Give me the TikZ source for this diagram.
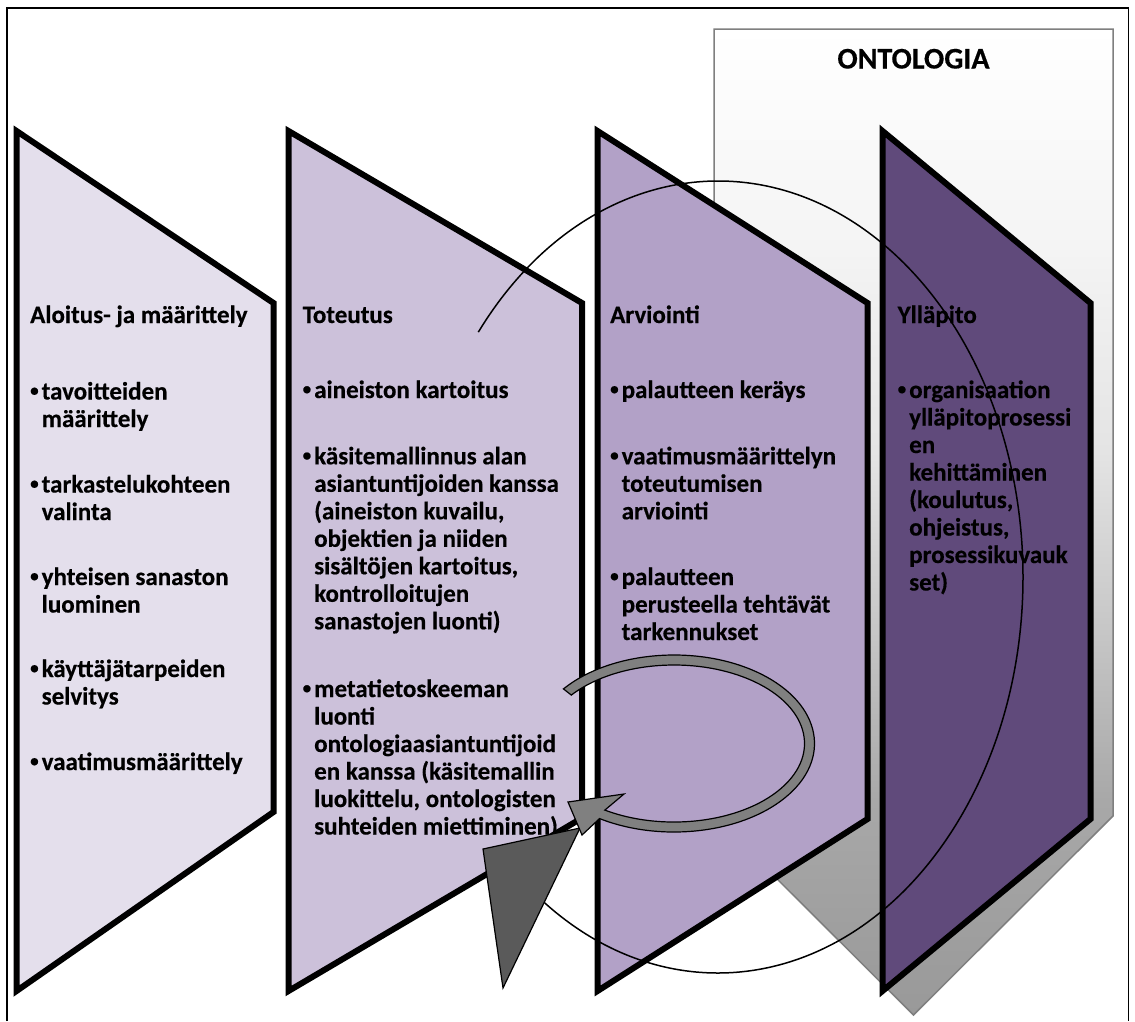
\documentclass[tikz,border=0pt]{standalone}
\usepackage{fontspec}
\setmainfont{Carlito}[BoldFeatures={FakeBold=0.4}]

% phase panel fills
\definecolor{phaseA}{HTML}{E4DFEC}
\definecolor{phaseB}{HTML}{CCC1DA}
\definecolor{phaseC}{HTML}{B2A1C7}
\definecolor{phaseD}{HTML}{604A7B}
% ontology panel fade
\definecolor{ontoC0}{HTML}{999999}
\definecolor{ontoC1}{HTML}{A8A8A8}
\definecolor{ontoC2}{HTML}{C8C8C8}
\definecolor{ontoC3}{HTML}{E4E4E4}
\definecolor{ontoC4}{HTML}{F4F4F4}
\definecolor{ontoEdge}{HTML}{7F7F7F}
\definecolor{ringGray}{HTML}{808080}
\definecolor{headGray}{HTML}{5A5A5A}

\pgfdeclareverticalshading{ontofade}{100bp}{%
  color(0bp)=(ontoC0); color(25bp)=(ontoC0); color(35.9bp)=(ontoC1);
  color(45bp)=(ontoC2); color(53.6bp)=(ontoC3); color(63.8bp)=(ontoC4);
  color(75bp)=(white); color(100bp)=(white)}

% small bullet in a fixed-width box, and the matching hanging indent
\newcommand\bulletmark{\makebox[11.5pt][l]{\raisebox{3.5pt}{\fontsize{17}{17}\selectfont •}}}
\newcommand\bulletgap{\hspace*{11.5pt}}

% one bulleted item, one node per printed line
\newcommand\bulletlines[4]{%
  \foreach \txtline [count=\k from 0] in {#4} {
    \node[txt] (#1-\k) at (#2,{#3+27.5*\k})
      {\ifnum\k=0 \bulletmark\else\bulletgap\fi\txtline};
  }%
}

\begin{document}
\begin{tikzpicture}[x=1pt,y=-1pt,
  txt/.style={anchor=base west,inner sep=0pt,
    font=\fontsize{25}{28}\selectfont\bfseries},
  heading/.style={txt},
  phase/.style={draw=black,line width=6pt,line join=miter},
  frame/.style={draw=black,line width=1.5pt},
  ontobox/.style={draw=ontoEdge,line width=1.5pt,shading=ontofade},
  loopline/.style={draw=black,line width=1.5pt},
  ring/.style={fill=ringGray,draw=black,line width=1.2pt,line join=miter},
  bighead/.style={fill=headGray,draw=black,line width=1.2pt,line join=miter}]

\useasboundingbox (0,0) rectangle (1135,1021);
\fill[white] (0,0) rectangle (1135,1021);

% outer frame
\draw[frame] (7,1021) -- (7,8) -- (1128.5,8) -- (1128.5,1021);

% ontology panel behind the phases
\shade[ontobox] (714,29) -- (1113,29) -- (1113,816) -- (913.5,1015)
  -- (714,816) -- cycle;
\node[font=\fontsize{30}{34}\selectfont\bfseries,anchor=base,inner sep=0pt]
  (onto) at (913.5,68.5) {ONTOLOGIA};

% the four phase panels
\draw[phase,fill=phaseA] (16.5,131) -- (273.5,303) -- (273.5,812) -- (16.5,991) -- cycle;
\draw[phase,fill=phaseB] (288.5,131) -- (582,303) -- (582,818) -- (288.5,991) -- cycle;
\draw[phase,fill=phaseC] (597.5,131) -- (867.5,303) -- (867.5,819) -- (597.5,991) -- cycle;
\draw[phase,fill=phaseD] (882.5,131) -- (1090.5,303) -- (1090.5,819) -- (882.5,991) -- cycle;

% phase 1
\node[heading] (h1) at (30,323) {Aloitus- ja määrittely};
\bulletlines{p1a}{30}{399.5}{tavoitteiden,määrittely}
\bulletlines{p1b}{30}{492.5}{tarkastelukohteen,valinta}
\bulletlines{p1c}{30}{585}{yhteisen sanaston,luominen}
\bulletlines{p1d}{30}{677}{käyttäjätarpeiden,selvitys}
\bulletlines{p1e}{30}{770}{vaatimusmäärittely}

% phase 2
\node[heading] (h2) at (302.5,323) {Toteutus};
\bulletlines{p2a}{302.5}{398}{aineiston kartoitus}
\bulletlines{p2b}{302.5}{464.3}{käsitemallinnus alan,asiantuntijoiden kanssa,
  {(aineiston kuvailu,},objektien ja niiden,{sisältöjen kartoitus,},
  kontrolloitujen,sanastojen luonti)}
\bulletlines{p2c}{302.5}{697}{metatietoskeeman,luonti,ontologiaasiantuntijoid,
  en kanssa (käsitemallin,{luokittelu, ontologisten},suhteiden miettiminen)}

% phase 3
\node[heading] (h3) at (610,323) {Arviointi};
\bulletlines{p3a}{610}{398}{palautteen keräys}
\bulletlines{p3b}{610}{464.3}{vaatimusmäärittelyn,toteutumisen,arviointi}
\bulletlines{p3c}{610}{585}{palautteen,perusteella tehtävät,tarkennukset}

% phase 4
\node[heading] (h4) at (897.5,323) {Ylläpito};
\bulletlines{p4a}{897.5}{398}{organisaation,ylläpitoprosessi,en,kehittäminen,
  {(koulutus,},{ohjeistus,},prosessikuvauk,set)}

% large cycle line
\draw[loopline] ([shift={(718,577)}]-141.8:305 and 396)
  arc[start angle=-141.8,end angle=128,x radius=305,y radius=396];

% dark arrow head at the end of the cycle
\filldraw[bighead] (483,849) -- (580,828) -- (503,988) -- cycle;

% feedback ring arrow
\filldraw[ring] ([shift={(674,743.5)}]-141.9:140.5 and 88.5)
  arc[start angle=-141.9,end angle=122,x radius=140.5,y radius=88.5]
  -- (582,835) -- (568,802) -- (624,794)
  -- ([shift={(674,743.5)}]122:130.5 and 78.5)
  arc[start angle=122,end angle=-141.9,x radius=130.5,y radius=78.5]
  -- cycle;

\end{tikzpicture}
\end{document}
